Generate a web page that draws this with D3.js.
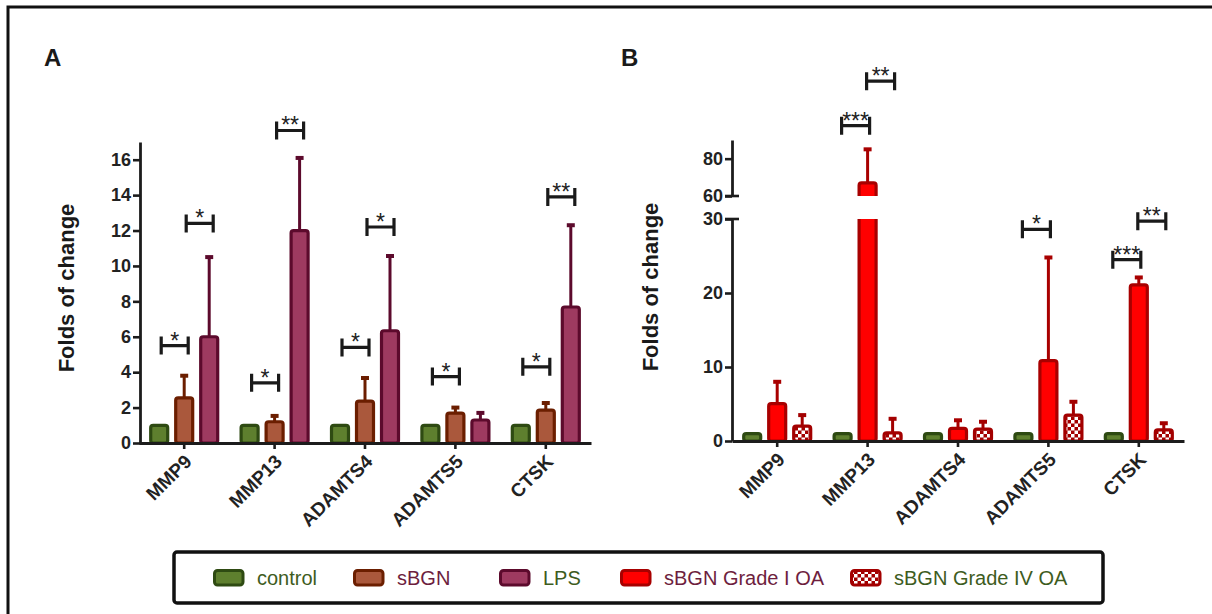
<!DOCTYPE html>
<html><head><meta charset="utf-8">
<script src="https://cdn.jsdelivr.net/npm/d3@7"></script>
<style>
body{margin:0;background:#fff}
svg{display:block}
text{font-family:"Liberation Sans",Arial,sans-serif}
</style>
</head><body>
<svg id="c" width="1212" height="614"></svg>
<script>
// ---------- DATA ----------
const categories = ["MMP9","MMP13","ADAMTS4","ADAMTS5","CTSK"];
const seriesA = ["control","sBGN","LPS"];
const seriesB = ["control","sBGN Grade I OA","sBGN Grade IV OA"];
const legendLabels = ["control","sBGN","LPS","sBGN Grade I OA","sBGN Grade IV OA"];

const controlMean   = [1,1,1,1,1];
const sbgnMean      = [2.55,1.2,2.37,1.69,1.86];
const sbgnErrTop    = [3.8,1.53,3.67,2.0,2.26];
const lpsMean       = [6.0,12.0,6.34,1.3,7.68];
const lpsErrTop     = [10.5,16.1,10.56,1.7,12.3];
const gradeIMean    = [5.05,67,1.7,10.85,21.1];
const gradeIErrTop  = [8.0,85,2.8,24.8,22.1];
const gradeIVMean   = [2.0,1.1,1.6,3.5,1.5];
const gradeIVErrTop = [3.5,3.0,2.6,5.3,2.4];

const yTicksA = [0,2,4,6,8,10,12,14,16];
const yTicksBLow = [0,10,20,30];
const yTicksBHigh = [60,80];

// significance brackets: category, from-bar, to-bar, height (data units), label
const sigA = [
  {cat:"MMP9",a:0,b:1,y:5.5,label:"*"},
  {cat:"MMP9",a:1,b:2,y:12.4,label:"*"},
  {cat:"MMP13",a:0,b:1,y:3.4,label:"*"},
  {cat:"MMP13",a:1,b:2,y:17.65,label:"**"},
  {cat:"ADAMTS4",a:0,b:1,y:5.4,label:"*"},
  {cat:"ADAMTS4",a:1,b:2,y:12.2,label:"*"},
  {cat:"ADAMTS5",a:0,b:1,y:3.75,label:"*"},
  {cat:"CTSK",a:0,b:1,y:4.3,label:"*"},
  {cat:"CTSK",a:1,b:2,y:13.9,label:"**"}
];
const sigB = [
  {cat:"MMP13",a:0,b:1,y:97.7,label:"***"},
  {cat:"MMP13",a:1,b:2,y:121.5,label:"**"},
  {cat:"ADAMTS5",a:0,b:1,y:28.6,label:"*"},
  {cat:"CTSK",a:0,b:1,y:24.5,label:"***"},
  {cat:"CTSK",a:1,b:2,y:29.7,label:"**"}
];

// ---------- STYLE ----------
const styles = {
  "control":{fill:"#5e7f2e",stroke:"#2e4a12",text:"#3e5c1e"},
  "sBGN":{fill:"#aa583c",stroke:"#6b1e00",text:"#6e1e3e"},
  "LPS":{fill:"#9e3a60",stroke:"#5c0a2c",text:"#3e5c1e"},
  "sBGN Grade I OA":{fill:"#ff0000",stroke:"#a80000",text:"#6e1e3e"},
  "sBGN Grade IV OA":{fill:"url(#checker)",stroke:"#a30000",text:"#3e5c1e"}
};
const axisColor = "#1c1c1c";
const offsets = [-25,0,25];
const barW = 17;

const svg = d3.select("#c");
const defs = svg.append("defs");
const pat = defs.append("pattern").attr("id","checker").attr("patternUnits","userSpaceOnUse")
  .attr("width",7).attr("height",7);
pat.append("rect").attr("width",7).attr("height",7).attr("fill","#a30000");
pat.append("rect").attr("width",3.5).attr("height",3.5).attr("fill","#fff");
pat.append("rect").attr("x",3.5).attr("y",3.5).attr("width",3.5).attr("height",3.5).attr("fill","#fff");

defs.append("clipPath").attr("id","clipLow").append("rect").attr("x",700).attr("y",219).attr("width",500).attr("height",240);
defs.append("clipPath").attr("id","clipUp").append("rect").attr("x",700).attr("y",60).attr("width",500).attr("height",136);

// outer frame
svg.append("path").attr("d","M8,614 V7 H1212").attr("fill","none").attr("stroke","#111").attr("stroke-width",3);

// panel labels
svg.append("text").attr("x",44).attr("y",66).attr("font-size",24).attr("font-weight","bold").attr("fill","#1a1a1a").text("A");
svg.append("text").attr("x",621).attr("y",66).attr("font-size",24).attr("font-weight","bold").attr("fill","#1a1a1a").text("B");

function styleAxis(g, fs){
  g.attr("font-size",null).attr("font-family",null);
  g.select(".domain").attr("stroke",axisColor).attr("stroke-width",2.8);
  g.selectAll(".tick line").attr("stroke",axisColor).attr("stroke-width",2.6);
  g.selectAll(".tick text").style("font-size",fs+"px").style("font-weight","bold").attr("fill","#222")
    .style("font-family","'Liberation Sans',Arial,sans-serif");
}

function drawBar(g, cx, y0, yTop, st, clip){
  const r = g.append("rect").attr("x",cx-barW/2).attr("width",barW)
    .attr("y",yTop).attr("height",Math.max(0,y0-yTop)).attr("rx",2.5)
    .attr("fill",st.fill).attr("stroke",st.stroke).attr("stroke-width",3.2);
  if(clip) r.attr("clip-path",clip);
}
function drawErr(g, cx, yMean, yErr, st){
  g.append("line").attr("x1",cx).attr("x2",cx).attr("y1",yMean).attr("y2",yErr)
    .attr("stroke",st.stroke).attr("stroke-width",3);
  g.append("line").attr("x1",cx-4).attr("x2",cx+4).attr("y1",yErr).attr("y2",yErr)
    .attr("stroke",st.stroke).attr("stroke-width",4);
}
function drawSig(g, list, x, yFn, dx1, dx2){
  list.forEach(d=>{
    const c = x(d.cat)+x.bandwidth()/2;
    const x1 = c+offsets[d.a]+dx1, x2 = c+offsets[d.b]+dx2, y = yFn(d.y);
    g.append("path").attr("d",`M${x1},${y-9}V${y+9}M${x1},${y}H${x2}M${x2},${y-9}V${y+9}`)
      .attr("fill","none").attr("stroke","#1a1a1a").attr("stroke-width",3.2);
    g.append("text").attr("x",(x1+x2)/2).attr("y",y+3).attr("text-anchor","middle")
      .attr("font-size",23).attr("fill","#222").text(d.label);
  });
}
function rotateLabels(g){
  g.selectAll(".tick text").attr("text-anchor","end").attr("x",0).attr("y",0).attr("dy","0.35em")
    .attr("transform","translate(4,15) rotate(-45)");
}

// ---------- PANEL A ----------
const xA = d3.scaleBand().domain(categories).range([139,591]);
const yA = d3.scaleLinear().domain([0,17]).range([443,142]);
const gA = svg.append("g");
const meansA = [controlMean, sbgnMean, lpsMean];
const errsA = [null, sbgnErrTop, lpsErrTop];
seriesA.forEach((s,si)=>{
  categories.forEach((c,i)=>{
    const cx = xA(c)+xA.bandwidth()/2+offsets[si];
    if(errsA[si]) drawErr(gA,cx,yA(meansA[si][i]),yA(errsA[si][i]),styles[s]);
    drawBar(gA,cx,yA(0),yA(meansA[si][i]),styles[s]);
  });
});
const axYA = svg.append("g").attr("transform","translate(140,0)")
  .call(d3.axisLeft(yA).tickValues(yTicksA).tickSize(7).tickSizeOuter(0).tickPadding(2));
styleAxis(axYA, 18);
const axXA = svg.append("g").attr("transform",`translate(0,${yA(0)})`)
  .call(d3.axisBottom(xA).tickSize(6).tickSizeOuter(0));
styleAxis(axXA, 19); rotateLabels(axXA);
drawSig(gA, sigA, xA, yA, 2, 4);
svg.append("text").attr("transform","translate(74,288) rotate(-90)").attr("text-anchor","middle")
  .attr("font-size",22).attr("font-weight","bold").attr("fill","#1a1a1a").text("Folds of change");

// ---------- PANEL B ----------
const xB = d3.scaleBand().domain(categories).range([732,1184]);
const yLow = d3.scaleLinear().domain([0,30]).range([441,219]);
const yUp = d3.scaleLinear().domain([60,90]).range([196,140]);
const yB = v => v<=30 ? yLow(v) : yUp(v);
const gB = svg.append("g");
const meansB = [controlMean, gradeIMean, gradeIVMean];
const errsB = [null, gradeIErrTop, gradeIVErrTop];
seriesB.forEach((s,si)=>{
  categories.forEach((c,i)=>{
    const cx = xB(c)+xB.bandwidth()/2+offsets[si];
    const m = meansB[si][i];
    if(errsB[si]) drawErr(gB,cx,yB(m),yB(errsB[si][i]),styles[s]);
    if(m<=30){
      drawBar(gB,cx,yLow(0),yLow(m),styles[s]);
    } else {
      drawBar(gB,cx,yLow(0),yLow(30)-20,styles[s],"url(#clipLow)");
      drawBar(gB,cx,yUp(60)+20,yUp(m),styles[s],"url(#clipUp)");
    }
  });
});
const axYBL = svg.append("g").attr("transform","translate(732,0)")
  .call(d3.axisLeft(yLow).tickValues(yTicksBLow).tickSize(7).tickSizeOuter(0).tickPadding(2));
styleAxis(axYBL, 18);
const axYBU = svg.append("g").attr("transform","translate(732,0)")
  .call(d3.axisLeft(yUp).tickValues(yTicksBHigh).tickSize(7).tickSizeOuter(0).tickPadding(2));
styleAxis(axYBU, 18);
[yLow(30), yUp(60)].forEach(y=>{
  svg.append("line").attr("x1",725).attr("x2",739).attr("y1",y).attr("y2",y)
    .attr("stroke",axisColor).attr("stroke-width",2.6);
});
const axXB = svg.append("g").attr("transform",`translate(0,${yLow(0)})`)
  .call(d3.axisBottom(xB).tickSize(6).tickSizeOuter(0));
styleAxis(axXB, 19); rotateLabels(axXB);
drawSig(gB, sigB, xB, yB, -1, 2);
svg.append("text").attr("transform","translate(658,287) rotate(-90)").attr("text-anchor","middle")
  .attr("font-size",22).attr("font-weight","bold").attr("fill","#1a1a1a").text("Folds of change");

// ---------- LEGEND ----------
svg.append("rect").attr("x",174).attr("y",552).attr("width",929).attr("height",51).attr("rx",3)
  .attr("fill","none").attr("stroke","#111").attr("stroke-width",3.5);
const legX = [213,353,499,620,850];
legendLabels.forEach((l,i)=>{
  const st = styles[l];
  svg.append("rect").attr("x",legX[i]+1.5).attr("y",570.5).attr("width",28.5).attr("height",14.5).attr("rx",3)
    .attr("fill",st.fill).attr("stroke",st.stroke).attr("stroke-width",3);
  svg.append("text").attr("x",legX[i]+44).attr("y",585).attr("font-size",20).attr("fill",st.text).text(l);
});
</script>
</body></html>
